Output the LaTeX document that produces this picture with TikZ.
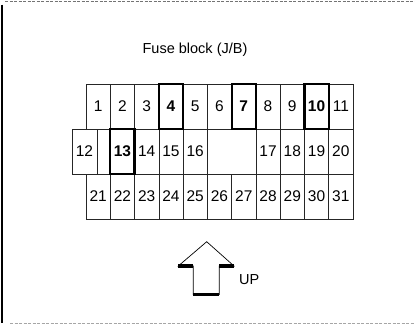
\documentclass[tikz,border=0pt]{standalone}
\usepackage{fontspec}
\setmainfont{Liberation Sans}
\begin{document}
\begin{tikzpicture}[x=1pt,y=-1pt,
  cell/.style={draw=black!85,line width=0.6pt,rectangle,inner sep=0pt,
    minimum width=24.27pt,minimum height=45pt,
    font=\fontsize{15.5}{18}\selectfont},
  boldcell/.style={cell,draw=black,line width=2.2pt,
    font=\fontsize{15.5}{18}\selectfont\bfseries},
  frameline/.style={draw=black!55,line width=1.1pt,dash pattern=on 3pt off 1.5pt},
  txt/.style={inner sep=0pt,font=\fontsize{14.5}{17}\selectfont}]
\useasboundingbox (0,0) rectangle (415,325);
% frame
\draw[black,line width=1.3pt] (2,4.5) -- (2,322.5);
\draw[frameline] (5,1.7) -- (415,1.7);
\draw[frameline,draw=black!35] (10,323.8) -- (415,323.8);
% title
\node[txt,anchor=base] (title) at (195,53) {Fuse block (J/B)};
\def\cw{24.27}
% row 1
\foreach \i in {1,2,3,5,6,8,9,11}{
  \node[cell] (c\i) at ({86+\cw*(\i-0.5)},106.5) {\i};
}
% row 2
\node[cell,minimum width=25pt] (c12) at (84.5,151.5) {12};
\node[cell,minimum width=13.27pt] (blank) at (103.63,151.5) {};
\foreach \i/\k in {14/2,15/3,16/4,17/7,18/8,19/9,20/10}{
  \node[cell] (c\i) at ({86+\cw*(\k+0.5)},151.5) {\i};
}
% row 3
\foreach \i in {21,...,31}{
  \node[cell] (c\i) at ({86+\cw*(\i-20.5)},196.5) {\i};
}
% bold cells
\foreach \i/\k in {4/3,7/6,10/9}{
  \node[boldcell] (c\i) at ({86+\cw*(\k+0.5)},106.5) {\i};
}
\node[boldcell] (c13) at ({86+\cw*1.5},151.5) {13};
% arrow
\draw[black,line width=0.7pt,line join=miter]
  (206.7,241.7) -- (234,266) -- (219.3,266) -- (219.3,294.5)
  -- (193.3,294.5) -- (193.3,266) -- (178.3,266) -- cycle;
\fill[black] (178.3,264) rectangle (193.3,268);
\fill[black] (219.3,264) rectangle (234,268);
\fill[black] (193.3,293) rectangle (219.3,296);
\node[txt,anchor=base west] (up) at (239,284.5) {UP};
\end{tikzpicture}
\end{document}
